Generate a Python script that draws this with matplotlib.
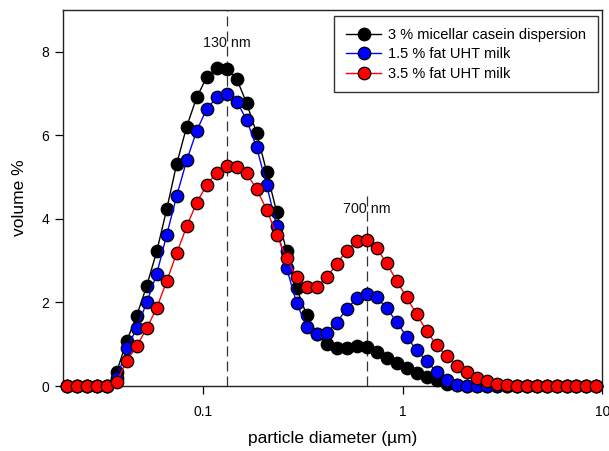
import matplotlib
matplotlib.use("Agg")
import matplotlib.pyplot as plt

plt.rcParams['font.family'] = ['Liberation Sans', 'DejaVu Sans']

# particle diameter (µm)
diameter = [0.02089, 0.02344, 0.02630, 0.02951, 0.03311, 0.03715, 0.04169, 0.04677,
            0.05248, 0.05888, 0.06607, 0.07413, 0.08318, 0.09333, 0.1047, 0.1175,
            0.1318, 0.1479, 0.1660, 0.1862, 0.2089, 0.2344, 0.2630, 0.2951,
            0.3311, 0.3715, 0.4169, 0.4677, 0.5248, 0.5888, 0.6607, 0.7413,
            0.8318, 0.9333, 1.047, 1.175, 1.318, 1.479, 1.660, 1.862,
            2.089, 2.344, 2.630, 2.951, 3.311, 3.715, 4.169, 4.677,
            5.248, 5.888, 6.607, 7.413, 8.318, 9.333]

casein = [0, 0, 0, 0, 0, 0.34, 1.08, 1.68, 2.40, 3.22, 4.23, 5.32, 6.21, 6.91,
          7.39, 7.62, 7.58, 7.35, 6.77, 6.05, 5.13, 4.17, 3.22, 2.34, 1.70, 1.25,
          1.00, 0.90, 0.92, 0.95, 0.94, 0.82, 0.68, 0.54, 0.42, 0.30, 0.22, 0.14,
          0.06, 0.02, 0, 0, 0, 0, 0, 0, 0, 0, 0, 0, 0, 0, 0, 0]

milk15 = [0, 0, 0, 0, 0, 0.18, 0.90, 1.38, 2.00, 2.68, 3.62, 4.55, 5.40, 6.11,
          6.63, 6.91, 6.99, 6.81, 6.37, 5.71, 4.81, 3.82, 2.82, 1.99, 1.42, 1.25,
          1.28, 1.52, 1.84, 2.10, 2.21, 2.13, 1.86, 1.54, 1.18, 0.86, 0.60, 0.34,
          0.15, 0.02, 0, 0, 0, 0, 0, 0, 0, 0, 0, 0, 0, 0, 0, 0]

milk35 = [0, 0, 0, 0, 0, 0.10, 0.61, 0.96, 1.38, 1.87, 2.51, 3.18, 3.82, 4.39,
          4.81, 5.11, 5.27, 5.25, 5.09, 4.71, 4.22, 3.62, 3.06, 2.60, 2.36, 2.38,
          2.60, 2.92, 3.24, 3.46, 3.50, 3.30, 2.94, 2.52, 2.12, 1.72, 1.32, 0.98,
          0.71, 0.48, 0.33, 0.20, 0.11, 0.06, 0.02, 0, 0, 0, 0, 0, 0, 0, 0, 0]

labels = ["3 % micellar casein dispersion", "1.5 % fat UHT milk", "3.5 % fat UHT milk"]
colors = ["black", "#0000FF", "#FF0000"]

peak1 = 0.1318
peak2 = 0.6607

fig = plt.figure(figsize=(6.09, 4.51), dpi=100)
ax = fig.add_axes([0.1034, 0.1441, 0.8859, 0.8337])

for ys, lab, c, z in zip([casein, milk15, milk35], labels, colors, [3, 4, 5]):
    ax.plot(diameter, ys, '-', color=c, lw=1.0, marker='o', markersize=9.0,
            markerfacecolor=c, markeredgecolor='black', markeredgewidth=0.9,
            label=lab, zorder=z, clip_on=False)

ax.set_xscale('log')
ax.set_xlim(0.02, 10)
ax.set_ylim(0, 9)

ax.axvline(peak1, ymin=0, ymax=1, color='#333333', lw=0.9, dashes=(8, 4), zorder=2)
ax.plot([peak2, peak2], [0, 4.6], color='#333333', lw=0.9, dashes=(8, 4), zorder=2)
ax.text(peak1, 8.22, "130 nm", ha='center', va='center', fontsize=10.3, color='#111111')
ax.text(peak2, 4.24, "700 nm", ha='center', va='center', fontsize=10.3, color='#111111')

ax.set_xticks([0.1, 1, 10])
ax.set_xticklabels(["0.1", "1", "10"])
ax.xaxis.set_minor_locator(matplotlib.ticker.NullLocator())
ax.set_yticks([0, 2, 4, 6, 8])
ax.tick_params(axis='both', direction='out', length=6, width=0.9, labelsize=10, pad=4)
ax.tick_params(axis='x', pad=8)

for s in ax.spines.values():
    s.set_linewidth(1.0)
    s.set_color('#222222')

ax.set_xlabel("particle diameter (µm)", fontsize=12.5, labelpad=8)
ax.set_ylabel("volume %", fontsize=12.5, labelpad=10)

leg = ax.legend(loc='upper right', bbox_to_anchor=(0.9917, 0.984), borderaxespad=0,
                fontsize=10.5, frameon=True, fancybox=False, edgecolor='black',
                handlelength=2.4, handletextpad=0.5, labelspacing=0.38,
                borderpad=0.8)
leg.get_frame().set_linewidth(1.0)
leg.set_zorder(10)

fig.savefig("out.png", dpi=100)
